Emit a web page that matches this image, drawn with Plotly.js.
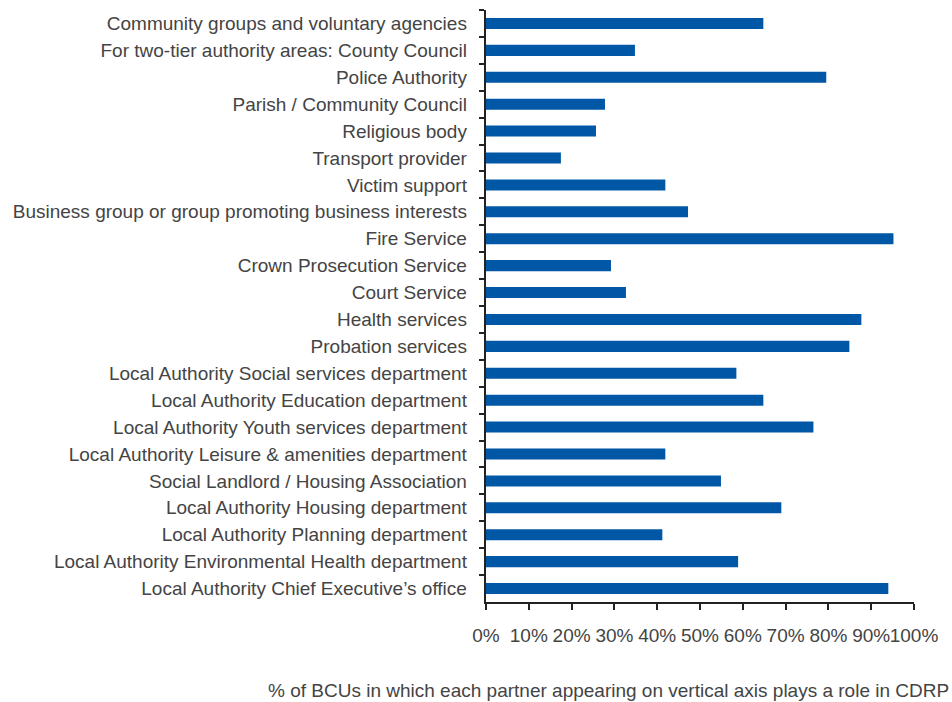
<!DOCTYPE html>
<html><head><meta charset="utf-8">
<script src="https://cdn.plot.ly/plotly-3.0.1.min.js"></script>
<style>html,body{margin:0;padding:0;background:#fff}#chart{width:952px;height:702px}</style>
</head><body><div id="chart"></div>
<script>
const categories = [
  "Community groups and voluntary agencies",
  "For two-tier authority areas: County Council",
  "Police Authority",
  "Parish / Community Council",
  "Religious body",
  "Transport provider",
  "Victim support",
  "Business group or group promoting business interests",
  "Fire Service",
  "Crown Prosecution Service",
  "Court Service",
  "Health services",
  "Probation services",
  "Local Authority Social services department",
  "Local Authority Education department",
  "Local Authority Youth services department",
  "Local Authority Leisure & amenities department",
  "Social Landlord / Housing Association",
  "Local Authority Housing department",
  "Local Authority Planning department",
  "Local Authority Environmental Health department",
  "Local Authority Chief Executive\u2019s office"
];
const values = [64.8, 34.8, 79.5, 27.8, 25.7, 17.5, 41.9, 47.2, 95.2, 29.2, 32.7, 87.7, 84.9, 58.5, 64.8, 76.5, 41.9, 54.9, 69.0, 41.2, 58.9, 94.0];
const xTickVals = [0,10,20,30,40,50,60,70,80,90,100];
const xTickText = ["0%","10%","20%","30%","40%","50%","60%","70%","80%","90%","100%"];
const xTitle = "% of BCUs in which each partner appearing on vertical axis plays a role in CDRP";

const font = {family: "Liberation Sans, Arial, sans-serif", size: 19, color: "#444"};
Plotly.newPlot("chart", [{
  type: "bar", orientation: "h",
  x: values, y: categories.map(c => c + " "),
  marker: {color: "#0057a6"},
  hoverinfo: "x+y"
}], {
  width: 952, height: 702,
  margin: {l: 486, r: 38, t: 10, b: 100},
  paper_bgcolor: "#fff", plot_bgcolor: "#fff",
  font: font,
  showlegend: false,
  bargap: 0.59,
  xaxis: {
    range: [0, 100], tickvals: xTickVals, ticktext: xTickText,
    tickangle: 0,
    showgrid: false, zeroline: false,
    showline: true, linecolor: "#222", linewidth: 2,
    ticks: "outside", ticklen: 6, tickwidth: 2, tickcolor: "#222",
    ticklabelstandoff: 9,
    tickfont: font, fixedrange: true
  },
  yaxis: {
    type: "category", autorange: "reversed",
    showgrid: false, zeroline: false,
    showline: true, linecolor: "#222", linewidth: 2,
    ticks: "outside", tickson: "boundaries", ticklen: 5, tickwidth: 2, tickcolor: "#222",
    ticklabelstandoff: 8,
    tickfont: font, fixedrange: true
  },
  annotations: [{
    xref: "paper", yref: "paper", x: 1.086, y: -0.150,
    xanchor: "right", yanchor: "middle",
    text: xTitle, showarrow: false, font: font
  }]
}, {displayModeBar: false, staticPlot: true});
</script></body></html>
